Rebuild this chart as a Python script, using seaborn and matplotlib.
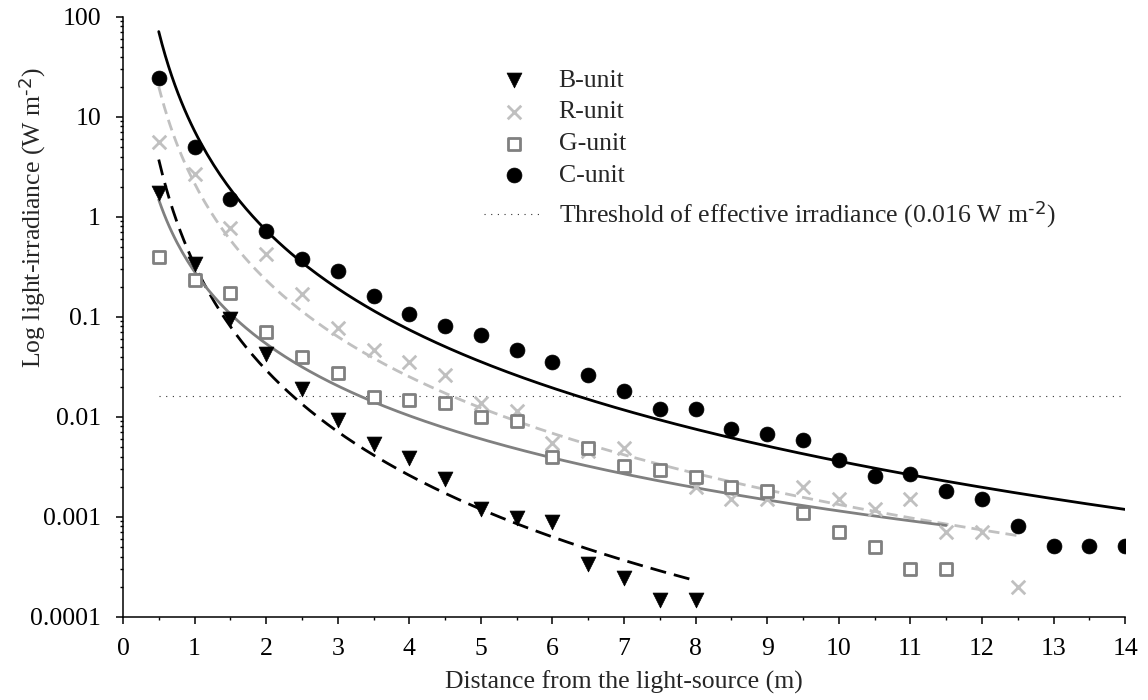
import matplotlib
matplotlib.use("Agg")
import matplotlib.pyplot as plt
from matplotlib.ticker import MultipleLocator, FuncFormatter, NullFormatter, LogLocator
import numpy as np
import pandas as pd
import seaborn as sns

# irradiance (W m-2) against distance (m)
dist_b = [0.5, 1, 1.5, 2, 2.5, 3, 3.5, 4, 4.5, 5, 5.5, 6, 6.5, 7, 7.5, 8]
irr_b = [1.72, 0.34, 0.094, 0.042, 0.0188, 0.0093, 0.0053, 0.0039, 0.0024,
         0.0012, 0.00096, 0.00089, 0.00034, 0.000245, 0.000147, 0.000147]

dist_r = [0.5, 1, 1.5, 2, 2.5, 3, 3.5, 4, 4.5, 5, 5.5, 6, 6.5, 7,
          8, 8.5, 9, 9.5, 10, 10.5, 11, 11.5, 12, 12.5]
irr_r = [5.6, 2.7, 0.77, 0.42, 0.169, 0.078, 0.046, 0.035, 0.026, 0.0138,
         0.0114, 0.0054, 0.0045, 0.0049, 0.0020, 0.0015, 0.0015, 0.0020,
         0.0015, 0.0012, 0.0015, 0.0007, 0.0007, 0.0002]

dist_g = [0.5, 1, 1.5, 2, 2.5, 3, 3.5, 4, 4.5, 5, 5.5, 6, 6.5, 7, 7.5, 8,
          8.5, 9, 9.5, 10, 10.5, 11, 11.5]
irr_g = [0.40, 0.233, 0.171, 0.070, 0.040, 0.0275, 0.0158, 0.0147, 0.0138,
         0.0099, 0.0091, 0.0040, 0.0049, 0.0032, 0.0029, 0.0025, 0.0020,
         0.0018, 0.0011, 0.0007, 0.0005, 0.0003, 0.0003]

dist_c = [0.5, 1, 1.5, 2, 2.5, 3, 3.5, 4, 4.5, 5, 5.5, 6, 6.5, 7, 7.5, 8,
          8.5, 9, 9.5, 10, 10.5, 11, 11.5, 12, 12.5, 13, 13.5, 14]
irr_c = [24.4, 5.0, 1.5, 0.72, 0.38, 0.29, 0.162, 0.106, 0.081, 0.065,
         0.046, 0.035, 0.026, 0.018, 0.012, 0.012, 0.0076, 0.0067, 0.0059,
         0.0037, 0.00255, 0.00265, 0.0018, 0.0015, 0.00081, 0.00051,
         0.00051, 0.00051]

threshold = 0.016
y_ticks = [0.0001, 0.001, 0.01, 0.1, 1, 10, 100]

sns.set_style("ticks")
plt.rcParams['font.family'] = ['Liberation Serif', 'DejaVu Serif']
plt.rcParams['mathtext.default'] = 'regular'
FS = 18.5

fig = plt.figure(figsize=(11.48, 7), dpi=100)
ax = fig.add_axes([0.1071, 0.119, 0.873, 0.857])

units = [
    # label, x, y, marker, face, edge, size, marker lw, line colour, line style
    ("B-unit", dist_b, irr_b, "v", "black", "black", 115, 0.5, "black", (0, (5.8, 2.9))),
    ("R-unit", dist_r, irr_r, "x", "#c0c0c0", "#c0c0c0", 95, 2.0, "#c0c0c0", (0, (4.0, 2.2))),
    ("G-unit", dist_g, irr_g, "s", "white", "#808080", 72, 2.0, "#808080", "-"),
    ("C-unit", dist_c, irr_c, "o", "black", "black", 115, 0.5, "black", "-"),
]

# power-law trend lines, fitted in log-log space
for name, xs, ys, mk, fc, ec, s, mlw, lc, ls in units:
    slope, icpt = np.polyfit(np.log10(xs), np.log10(ys), 1)
    xf = np.linspace(min(xs), max(xs), 300)
    fit = pd.DataFrame({"x": xf, "y": 10 ** icpt * xf ** slope})
    sns.lineplot(data=fit, x="x", y="y", ax=ax, color=lc, linewidth=2.0,
                 linestyle=ls, legend=False, zorder=2)

# threshold of effective irradiance
ax.plot([min(dist_c), max(dist_c)], [threshold, threshold], color="#333333",
        linewidth=0.8, linestyle=(0, (1, 5)), zorder=1)
thr_handle = ax.lines[-1]

handles = []
for name, xs, ys, mk, fc, ec, s, mlw, lc, ls in units:
    d = pd.DataFrame({"x": xs, "y": ys})
    if mk == "x":
        sns.scatterplot(data=d, x="x", y="y", ax=ax, marker=mk, color=fc,
                        s=s, linewidth=mlw, legend=False, zorder=3)
    else:
        sns.scatterplot(data=d, x="x", y="y", ax=ax, marker=mk, facecolor=fc,
                        edgecolor=ec, s=s, linewidth=mlw, legend=False, zorder=3)
    coll = ax.collections[-1]
    coll.set_label(name)
    handles.append(coll)

ax.set_yscale("log")
ax.set_xlim(0, 14)
ax.set_ylim(0.0001, 100)
ax.xaxis.set_major_locator(MultipleLocator(1))
ax.xaxis.set_minor_locator(MultipleLocator(0.5))
ax.set_yticks(y_ticks)
ax.yaxis.set_major_formatter(FuncFormatter(lambda v, p: f"{v:g}"))
ax.yaxis.set_minor_locator(LogLocator(base=10, subs=np.arange(2, 10)))
ax.yaxis.set_minor_formatter(NullFormatter())
ax.tick_params(axis="both", which="major", direction="out", length=4.8,
               width=1.1, labelsize=FS, colors="black")
ax.tick_params(axis="x", which="major", pad=10.5)
ax.tick_params(axis="y", which="major", pad=11)
ax.tick_params(axis="both", which="minor", direction="out", length=2.5,
               width=1.0, colors="black")
for side in ["top", "right"]:
    ax.spines[side].set_visible(False)
for side in ["left", "bottom"]:
    ax.spines[side].set_linewidth(1.1)
    ax.spines[side].set_color("black")

ax.set_xlabel("Distance from the light-source (m)", fontsize=FS, labelpad=8)
ax.set_ylabel(r"Log light-irradiance (W m$^{\text{-2}}$)", fontsize=FS)
ax.yaxis.set_label_coords(-0.0749, 0.665)

leg1 = ax.legend(handles=handles, labels=[h.get_label() for h in handles],
                 loc="upper left", bbox_to_anchor=(0.425, 0.902),
                 bbox_transform=fig.transFigure, frameon=False, fontsize=FS,
                 handlelength=2.0, handletextpad=0.75, labelspacing=0.345,
                 borderpad=0, borderaxespad=0)
ax.add_artist(leg1)
ax.legend(handles=[thr_handle],
          labels=[r"Threshold of effective irradiance (0.016 W m$^{\text{-2}}$)"],
          loc="upper left", bbox_to_anchor=(0.4216, 0.7157),
          bbox_transform=fig.transFigure, frameon=False, fontsize=FS,
          handlelength=2.18, handletextpad=0.74, borderpad=0, borderaxespad=0)

fig.savefig("out.png", dpi=100)
